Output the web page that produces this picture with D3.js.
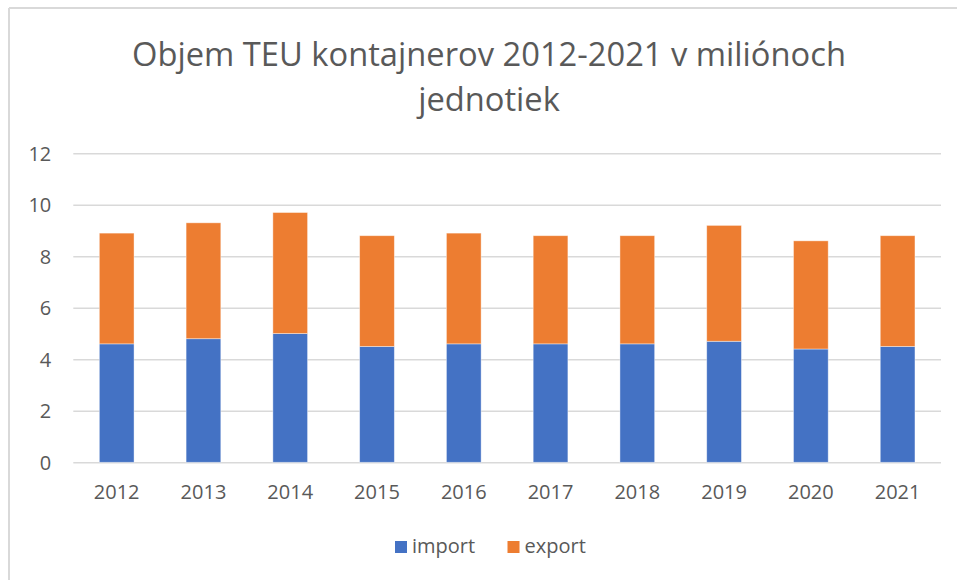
<!DOCTYPE html>
<html>
<head>
<meta charset="utf-8">
<script src="https://cdn.jsdelivr.net/npm/d3@7"></script>
<style>
  html, body { margin: 0; padding: 0; background: #fff; }
  svg { display: block; }
  text { font-family: "Open Sans", "Noto Sans", sans-serif; fill: #595959; }
</style>
</head>
<body>
<svg id="chart" width="957" height="580"></svg>
<script>
// Container throughput, millions of TEU
const years = ["2012","2013","2014","2015","2016","2017","2018","2019","2020","2021"];
const importValues = [4.6, 4.8, 5.0, 4.5, 4.6, 4.6, 4.6, 4.7, 4.4, 4.5];
const exportValues = [4.3, 4.5, 4.7, 4.3, 4.3, 4.2, 4.2, 4.5, 4.2, 4.3];
const yTicks = [0, 2, 4, 6, 8, 10, 12];
const seriesNames = ["import", "export"];
const seriesColors = ["#4472C4", "#ED7D31"];
const titleLines = ["Objem TEU kontajnerov 2012-2021 v miliónoch", "jednotiek"];

const svg = d3.select("#chart");
const W = 957, H = 580;

// chart frame (top and left edges)
svg.append("line").attr("x1", 9).attr("x2", W).attr("y1", 8).attr("y2", 8)
  .attr("stroke", "#d9d9d9").attr("stroke-width", 2);
svg.append("line").attr("x1", 9).attr("x2", 9).attr("y1", 8).attr("y2", H)
  .attr("stroke", "#d9d9d9").attr("stroke-width", 2);

// title
svg.append("g").selectAll("text").data(titleLines).join("text")
  .attr("x", 489).attr("y", (d, i) => 66 + i * 45)
  .attr("text-anchor", "middle")
  .style("font-size", "32.7px")
  .text(d => d);

const plot = { left: 73.3, right: 941, top: 153.3, bottom: 462.3 };

const x = d3.scaleBand().domain(years).range([plot.left, plot.right]).paddingInner(0.6).paddingOuter(0.3);
const y = d3.scaleLinear().domain([0, 12]).range([plot.bottom, plot.top]);

// gridlines and y labels
const yAxis = d3.axisLeft(y).tickValues(yTicks).tickSize(-(plot.right - plot.left)).tickPadding(22);
const gy = svg.append("g").attr("transform", `translate(${plot.left},0)`).call(yAxis);
gy.select(".domain").remove();
gy.selectAll(".tick line").attr("stroke", "#d9d9d9").attr("stroke-width", 1.4);
gy.selectAll(".tick text").style("font-size", "20px").attr("fill", "#595959").attr("dy", "0.35em");

// stacked bars
const rows = years.map((yr, i) => ({ year: yr, import: importValues[i], export: exportValues[i] }));
const stacked = d3.stack().keys(seriesNames)(rows);
svg.append("g").selectAll("g").data(stacked).join("g")
  .attr("fill", (d, i) => seriesColors[i])
  .selectAll("rect").data(d => d).join("rect")
  .attr("x", d => x(d.data.year))
  .attr("width", x.bandwidth())
  .attr("y", d => y(d[1]))
  .attr("height", d => y(d[0]) - y(d[1]))
  .attr("stroke", "#ffffff").attr("stroke-opacity", 0.5).attr("stroke-width", 0.8);

// x axis labels
const xAxis = d3.axisBottom(x).tickSize(0).tickPadding(23);
const gx = svg.append("g").attr("transform", `translate(0,${plot.bottom})`).call(xAxis);
gx.select(".domain").remove();
gx.selectAll(".tick text").style("font-size", "20px").attr("fill", "#595959");

// legend
const legend = svg.append("g");
const legendX = [395, 507.5];
seriesNames.forEach((name, i) => {
  legend.append("rect").attr("x", legendX[i]).attr("y", 541).attr("width", 12).attr("height", 12)
    .attr("fill", seriesColors[i]);
  legend.append("text").attr("x", legendX[i] + 17).attr("y", 553)
    .style("font-size", "20px").text(name);
});
</script>
</body>
</html>
